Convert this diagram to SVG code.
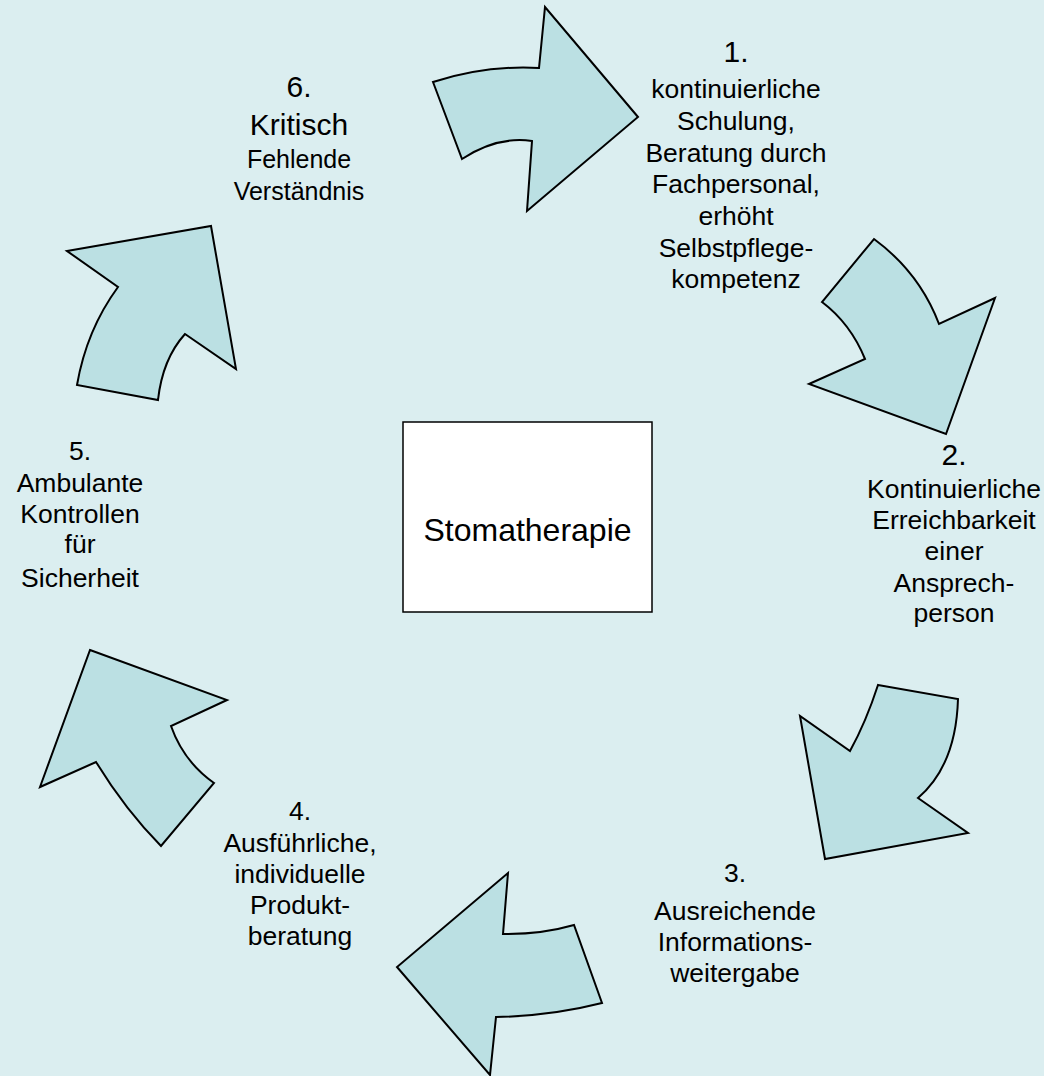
<svg xmlns="http://www.w3.org/2000/svg" width="1044" height="1076" viewBox="0 0 1044 1076">
<style>
.bg{fill:#DBEEF0}
.arrow{fill:#BBE0E3;stroke:#000;stroke-width:2;stroke-linejoin:miter}
.box{fill:#fff;stroke:#000;stroke-width:1.5}
text{font-family:"Liberation Sans",Arial,sans-serif;fill:#000;text-anchor:middle}
.t{font-size:26.5px}
.s{font-size:25px}
.big{font-size:30px}
.c{font-size:32px}
</style>
<rect class="bg" x="0" y="0" width="1044" height="1076"/>
<g id="connectors">
<path id="arrow1" class="arrow" d="M433,82 Q486,65 539,68 L545,7 L638,117 L527,211 L532,141 Q497,136 462,159 Z"/>
<path id="arrow2" class="arrow" d="M874,239 Q919.5,272.5 939,324 L995,298 L946,434 L809,384 L865,359 Q850.5,323.5 822,302 Z"/>
<path id="arrow3" class="arrow" d="M878,685 L958,699 Q956,765.5 918,798 L968,833 L825,859 L800,716 L850,751 Q866,722 878,685 Z"/>
<path id="arrow4" class="arrow" d="M508,873 L503,934 Q541,934.5 574,925 L602,1003 Q551,1016 496,1017 L490,1075 L397,967 Z"/>
<path id="arrow5" class="arrow" d="M90,650 L227,700 L171,726 Q183.5,761.5 214,783 L161,846 Q125.5,810 96,762 L40,787 Z"/>
<path id="arrow6" class="arrow" d="M67,251 L211,226 L236,369 L185,334 Q162.5,359 158,400 L77,385 Q86.5,330 118,287 Z"/>
</g>
<g id="center">
<rect class="box" x="403" y="422" width="249" height="190"/>
<text class="c" x="527.5" y="541">Stomatherapie</text>
</g>
<g id="step1">
<text class="big" x="736" y="62">1.</text>
<text class="t" x="736" y="98">kontinuierliche</text>
<text class="t" x="736" y="130">Schulung,</text>
<text class="t" x="736" y="162">Beratung durch</text>
<text class="t" x="736" y="193">Fachpersonal,</text>
<text class="t" x="736" y="225">erhöht</text>
<text class="t" x="736" y="257">Selbstpflege-</text>
<text class="t" x="736" y="288">kompetenz</text>
</g>
<g id="step2">
<text class="big" x="954" y="465">2.</text>
<text class="t" x="954" y="498">Kontinuierliche</text>
<text class="t" x="954" y="529">Erreichbarkeit</text>
<text class="t" x="954" y="560">einer</text>
<text class="t" x="954" y="592">Ansprech-</text>
<text class="t" x="954" y="622">person</text>
</g>
<g id="step3">
<text class="t" x="735" y="882">3.</text>
<text class="t" x="735" y="920">Ausreichende</text>
<text class="t" x="735" y="951">Informations-</text>
<text class="t" x="735" y="982">weitergabe</text>
</g>
<g id="step4">
<text class="t" x="300" y="820">4.</text>
<text class="t" x="300" y="852">Ausführliche,</text>
<text class="t" x="300" y="883">individuelle</text>
<text class="t" x="300" y="914">Produkt-</text>
<text class="t" x="300" y="945">beratung</text>
</g>
<g id="step5">
<text class="t" x="80" y="460">5.</text>
<text class="t" x="80" y="492">Ambulante</text>
<text class="t" x="80" y="523">Kontrollen</text>
<text class="t" x="80" y="553">für</text>
<text class="t" x="80" y="587">Sicherheit</text>
</g>
<g id="step6">
<text class="big" x="299" y="97">6.</text>
<text class="big" x="299" y="135">Kritisch</text>
<text class="s" x="299" y="168">Fehlende</text>
<text class="s" x="299" y="200">Verständnis</text>
</g>
</svg>
